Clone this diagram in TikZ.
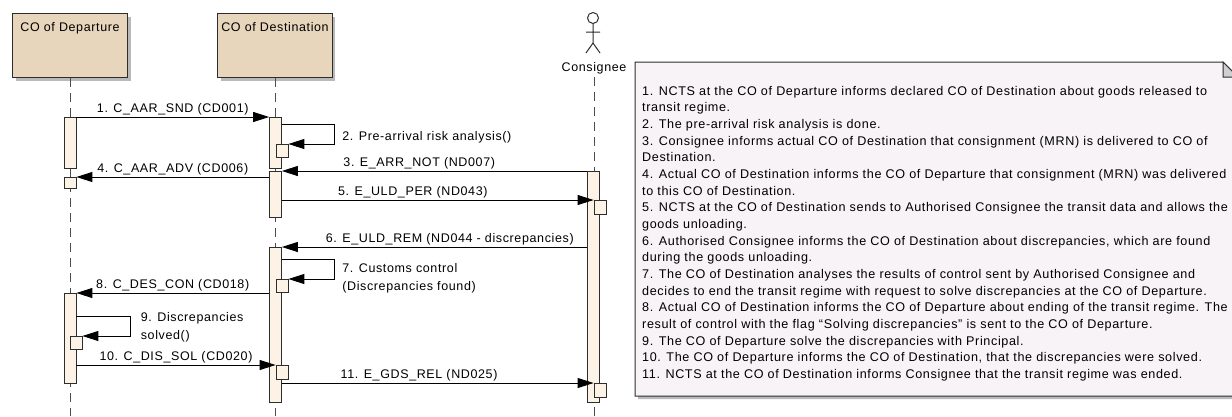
\documentclass[tikz,border=0pt]{standalone}
\usepackage{fontspec}
\setmainfont{Liberation Sans}[LetterSpace=5]
\usepackage{tikz}
\usetikzlibrary{positioning}
\usetikzlibrary{arrows.meta}
\usetikzlibrary{shadows}
\definecolor{headtan}{RGB}{232,214,188}
\definecolor{barcream}{RGB}{252,243,230}
\definecolor{notelilac}{RGB}{247,243,247}
\definecolor{foldgray}{RGB}{208,208,212}
\definecolor{edge}{RGB}{45,45,45}
\tikzstyle{lifehead}=[rectangle,draw=edge,line width=1pt,fill=headtan,anchor=north,minimum width=115pt,inner ysep=8.5pt,text height=9pt,text depth=38pt,drop shadow={shadow xshift=3pt,shadow yshift=-3pt,fill=gray!55,opacity=1}]
\tikzstyle{lifeline}=[draw=edge!85,line width=1pt,dash pattern=on 9pt off 6pt]
\tikzstyle{bar}=[rectangle,draw=edge,line width=0.8pt,fill=barcream,minimum width=12pt,inner sep=0pt,anchor=north]
\tikzstyle{msg}=[draw=black,line width=0.9pt,-{Triangle[length=16pt,width=10pt]}]
\tikzstyle{msglbl}=[above,inner sep=1.5pt]
\tikzstyle{selflbl}=[anchor=west,align=left,inner sep=0pt,xshift=7pt]
\tikzstyle{notetext}=[anchor=north west,align=left,inner sep=0pt,font=\fontsize{12.6pt}{16.65pt}\selectfont]

\begin{document}
\begin{tikzpicture}[x=1pt,y=-1pt,font=\fontsize{12.5pt}{18pt}\selectfont]

\useasboundingbox (0,0) rectangle (1232,416);
\coordinate (bottom) at (0,416);

% heads
\node [lifehead] (dep) at (70,13) {CO of Departure};
\node [lifehead, minimum width=114pt] (dst) at (275,13) {CO of Destination};

% actor
\draw[edge,line width=1pt] (593,18) circle (5.5pt);
\draw[edge,line width=1pt] (593,23.5) -- (593,43) (586,32) -- (600,32)
	(586,53) -- (593,43) -- (600,53);
\node (cons) at (594,68) {Consignee};

% lifelines
\draw[lifeline] (dep.south) -- (dep.south |- bottom);
\draw[lifeline] (dst.south) -- (dst.south |- bottom);
\draw[lifeline] (cons.south) -- (cons.south |- bottom);

% activations
\node [bar, minimum height=51pt] (depA) at (70,117) {};
\node [bar, minimum height=11pt] (depR4) at (70,177) {};
\node [bar, minimum height=90pt] (depB) at (70,293) {};
\node [bar, minimum height=13pt] (depS9) at (76,336) {};

\node [bar, minimum height=51pt] (dstA) at (275.5,117) {};
\node [bar, minimum height=13pt] (dstS2) at (282,144) {};
\node [bar, minimum height=46pt] (dstB) at (275.5,171) {};
\node [bar, minimum height=155pt] (dstC) at (275.5,247) {};
\node [bar, minimum height=13pt] (dstS7) at (282,279) {};
\node [bar, minimum height=14pt] (dstR10) at (282,365) {};

\node [bar, minimum height=231pt] (conA) at (593.5,171) {};
\node [bar, minimum height=14pt] (conR5) at (600,200) {};
\node [bar, minimum height=14pt] (conR11) at (600,383) {};

% messages
\draw[msg] (depA.north east) -- node[msglbl]{1. C\_AAR\_SND (CD001)} (dstA.north west);
\draw[msg] ([yshift=-7pt]dstA.north east) -- ++(53,0) |- node[selflbl,pos=0.325]{2. Pre-arrival risk analysis()} (dstS2.north east);
\draw[msg] (conA.north west) -- node[msglbl,pos=0.55]{3. E\_ARR\_NOT (ND007)} (dstB.north east);
\draw[msg] (dstB.west |- depR4.north east) -- node[msglbl]{4. C\_AAR\_ADV (CD006)} (depR4.north east);
\draw[msg] (dstB.east |- conR5.north west) -- node[msglbl,pos=0.42]{5. E\_ULD\_PER (ND043)} (conR5.north west);
\draw[msg] (conA.west |- dstC.north east) -- node[msglbl,pos=0.45]{6. E\_ULD\_REM (ND044 - discrepancies)} (dstC.north east);
\draw[msg] ([yshift=-12pt]dstC.north east) -- ++(53,0) |- node[selflbl,pos=0.475]{7. Customs control\\(Discrepancies found)} (dstS7.north east);
\draw[msg] (dstC.west |- depB.north east) -- node[msglbl]{8. C\_DES\_CON (CD018)} (depB.north east);
\draw[msg] ([yshift=-23pt]depB.north east) -- ++(54,0) |- node[selflbl,pos=0.275,xshift=3pt]{9. Discrepancies\\solved()} (depS9.north east);
\draw[msg] (depB.east |- dstR10.north west) -- node[msglbl]{10. C\_DIS\_SOL (CD020)} (dstR10.north west);
\draw[msg] (dstC.east |- conR11.north west) -- node[msglbl,pos=0.44]{11. E\_GDS\_REL (ND025)} (conR11.north west);

% note
\draw[edge,line width=1pt,fill=notelilac,drop shadow={shadow xshift=3pt,shadow yshift=-3pt,fill=gray!55,opacity=1}]
	(635,62) -- (1223,62) -- (1238,77) -- (1238,396) -- (635,396) -- cycle;
\draw[edge,line width=1pt,fill=foldgray] (1223,62) -- (1223,77) -- (1238,77) -- cycle;
\node [notetext] (note) at (642,86) {1. NCTS at the CO of Departure informs declared CO of Destination about goods released to\\
transit regime.\\
2. The pre-arrival risk analysis is done.\\
3. Consignee informs actual CO of Destination that consignment (MRN) is delivered to CO of\\
Destination.\\
4. Actual CO of Destination informs the CO of Departure that consignment (MRN) was delivered\\
to this CO of Destination.\\
5. NCTS at the CO of Destination sends to Authorised Consignee the transit data and allows the\\
goods unloading.\\
6. Authorised Consignee informs the CO of Destination about discrepancies, which are found\\
during the goods unloading.\\
7. The CO of Destination analyses the results of control sent by Authorised Consignee and\\
decides to end the transit regime with request to solve discrepancies at the CO of Departure.\\
8. Actual CO of Destination informs the CO of Departure about ending of the transit regime. The\\
result of control with the flag “Solving discrepancies” is sent to the CO of Departure.\\
9. The CO of Departure solve the discrepancies with Principal.\\
10. The CO of Departure informs the CO of Destination, that the discrepancies were solved.\\
11. NCTS at the CO of Destination informs Consignee that the transit regime was ended.};

\end{tikzpicture}
\end{document}
